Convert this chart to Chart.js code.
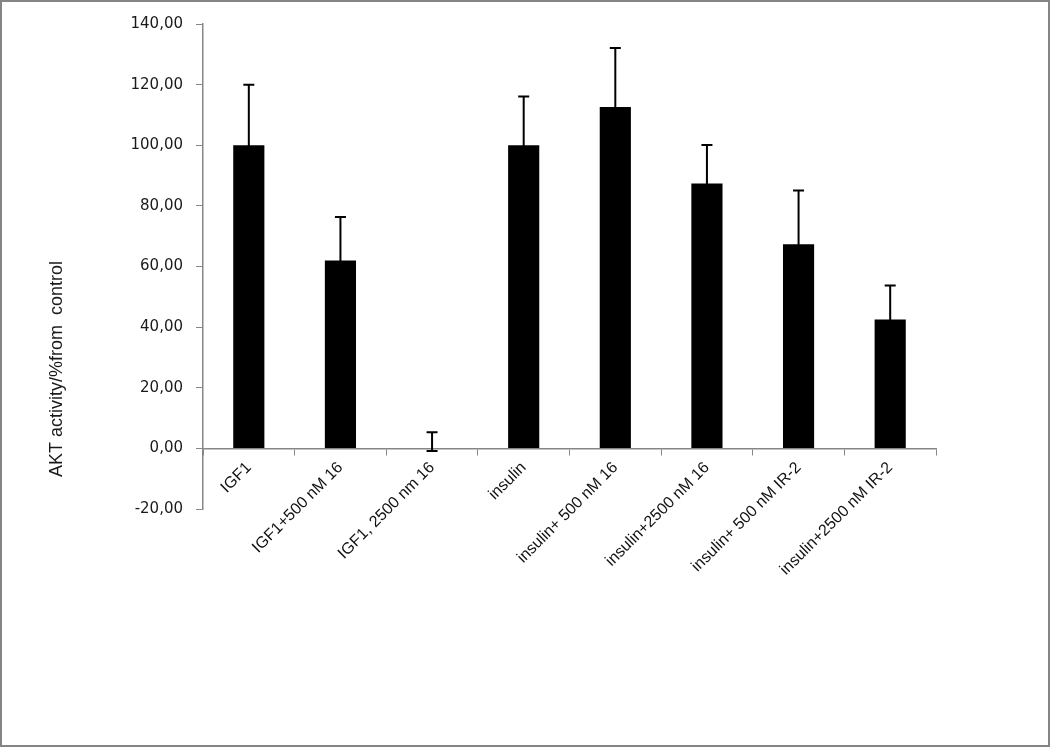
<!DOCTYPE html>
<html>
<head>
<meta charset="utf-8">
<script src="https://cdn.jsdelivr.net/npm/chart.js@4"></script>
<style>
  html, body { margin: 0; padding: 0; background: #fff; }
  #frame {
    width: 1050px; height: 747px; box-sizing: border-box;
    border: 2px solid #858585; position: relative; background: #fff;
  }
  #chart { display: block; }
</style>
</head>
<body>
<div id="frame">
  <canvas id="chart" width="1046" height="743"></canvas>
</div>
<script>
// data
const categories = [
  'IGF1', 'IGF1+500 nM 16', 'IGF1, 2500 nm 16', 'insulin',
  'insulin+ 500 nM 16', 'insulin+2500 nM 16', 'insulin+ 500 nM IR-2', 'insulin+2500 nM IR-2'
];
const aktActivity = [100, 62.0, 0, 100, 112.6, 87.4, 67.3, 42.5];
const errorPlus = [20, 14.3, 5.3, 16.1, 19.5, 12.7, 17.8, 11.2];
const errorMinus = [20, 14.3, 0.9, 16.1, 19.5, 12.7, 17.8, 11.2];
const yTicks = [-20, 0, 20, 40, 60, 80, 100, 120, 140];
const yTitle = 'AKT activity/%from  control';

const axisGray = '#878787';

// error bars drawn on top of the bars
const errorBars = {
  id: 'errorBars',
  afterDatasetsDraw(chart) {
    const ctx = chart.ctx;
    const y = chart.scales.y;
    const meta = chart.getDatasetMeta(0);
    ctx.save();
    ctx.strokeStyle = '#000';
    ctx.lineWidth = 2;
    meta.data.forEach((bar, i) => {
      const v = aktActivity[i];
      const top = y.getPixelForValue(v + errorPlus[i]);
      const bot = y.getPixelForValue(v - errorMinus[i]);
      const x = bar.x;
      const cap = 5.5;
      ctx.beginPath();
      ctx.moveTo(x, top); ctx.lineTo(x, bot);
      ctx.moveTo(x - cap, top); ctx.lineTo(x + cap, top);
      ctx.moveTo(x - cap, bot); ctx.lineTo(x + cap, bot);
      ctx.stroke();
    });
    ctx.restore();
  }
};

// y title sits lower than the axis centre in the original
const yTitlePlugin = {
  id: 'yTitlePlugin',
  afterDraw(chart) {
    const ctx = chart.ctx;
    ctx.save();
    ctx.translate(55, 367);
    ctx.rotate(-Math.PI / 2);
    ctx.font = '18px "Liberation Sans", Arial, sans-serif';
    ctx.fillStyle = '#1a1a1a';
    ctx.textAlign = 'center';
    ctx.textBaseline = 'middle';
    ctx.fillText(yTitle, 0, 0);
    ctx.restore();
  }
};

new Chart(document.getElementById('chart'), {
  type: 'bar',
  data: {
    labels: categories,
    datasets: [{
      data: aktActivity,
      backgroundColor: '#000',
      borderWidth: 0,
      barPercentage: 0.34,
      categoryPercentage: 1
    }]
  },
  options: {
    responsive: false,
    animation: false,
    events: [],
    layout: { padding: { top: 17, right: 112, bottom: 236, left: 0 } },
    plugins: { legend: { display: false }, tooltip: { enabled: false } },
    scales: {
      x: {
        position: { y: 0 },
        grid: {
          offset: true,
          drawOnChartArea: false,
          drawTicks: true,
          tickLength: 6,
          color: axisGray
        },
        border: { color: axisGray, width: 1.5 },
        ticks: {
          autoSkip: false,
          minRotation: 45,
          maxRotation: 45,
          padding: 4,
          color: '#111',
          font: { family: '"Liberation Sans", Arial, sans-serif', size: 16 }
        }
      },
      y: {
        min: -20,
        max: 140,
        afterFit(scale) { scale.width = 201; },
        afterBuildTicks(scale) { scale.ticks = yTicks.map(v => ({ value: v })); },
        grid: {
          drawOnChartArea: false,
          tickLength: 7,
          color: axisGray
        },
        border: { color: axisGray, width: 1.5 },
        ticks: {
          padding: 13,
          color: '#1a1a1a',
          font: { family: '"DejaVu Sans", sans-serif', size: 15 },
          callback: v => v.toFixed(2).replace('.', ',')
        }
      }
    }
  },
  plugins: [errorBars, yTitlePlugin]
});
</script>
</body>
</html>
